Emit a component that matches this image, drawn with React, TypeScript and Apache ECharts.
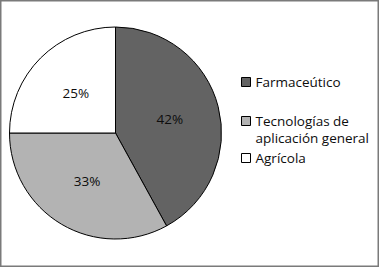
import React, { useEffect, useRef } from "react";
import * as echarts from "echarts";

const categories = ["Farmaceútico", "Tecnologías de aplicación general", "Agrícola"];
const legendLabels = ["Farmaceútico", "Tecnologías de\naplicación general", "Agrícola"];
const values = [42, 33, 25];
const colors = ["#636363", "#b3b3b3", "#ffffff"];

const FONT = "Open Sans";
const FS = 13.5;

export default function App() {
  const ref = useRef<HTMLDivElement>(null);
  useEffect(() => {
    if (!ref.current) return;
    const chart = echarts.init(ref.current, undefined, { renderer: "svg" });
    const legendTops = [73.5, 112.5, 149.5];
    const legends = categories.map((name, i) => ({
      orient: "vertical",
      left: 241,
      top: legendTops[i],
      padding: 0,
      itemGap: 0,
      itemWidth: 9,
      itemHeight: i === 1 ? 26 : 9,
      icon: i === 1 ? "path://M0 0H9V9H0Z M0 26H0.001Z" : "rect",
      selectedMode: false,
      data: [name],
      formatter: () => legendLabels[i],
      textStyle: {
        fontFamily: FONT,
        fontSize: FS,
        lineHeight: 17,
        color: "#0d0d0d",
      },
      itemStyle: { borderColor: "#000", borderWidth: 1 },
    }));
    chart.setOption({
      animation: false,
      backgroundColor: "#fff",
      graphic: [
        {
          type: "rect",
          shape: { x: 0.75, y: 0.75, width: 377.5, height: 265.5 },
          style: { fill: "none", stroke: "#7a7a7a", lineWidth: 1.5 },
          silent: true,
        },
      ],
      legend: legends,
      series: [
        {
          type: "pie",
          center: [115.5, 133],
          radius: 106,
          startAngle: 90,
          clockwise: true,
          avoidLabelOverlap: false,
          label: {
            show: true,
            position: "inside",
            formatter: "{c}%",
            fontFamily: FONT,
            fontSize: FS,
            color: "#0d0d0d",
          },
          labelLine: { show: false },
          itemStyle: { borderColor: "#000", borderWidth: 1 },
          emphasis: { disabled: true },
          data: categories.map((name, i) => ({
            name,
            value: values[i],
            itemStyle: { color: colors[i] },
          })),
        },
      ],
    });
    return () => chart.dispose();
  }, []);
  return (
    <div
      ref={ref}
      style={{ position: "absolute", left: 0, top: 0, width: 379, height: 267 }}
    />
  );
}
